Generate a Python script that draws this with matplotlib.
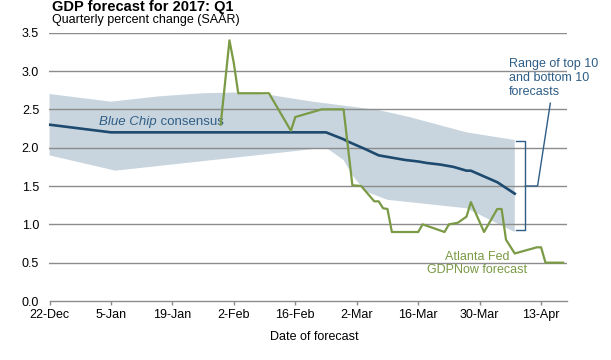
import matplotlib
matplotlib.use('Agg')
import matplotlib.pyplot as plt
import matplotlib.dates as mdates
import numpy as np

plt.rcParams['font.family'] = ['Liberation Sans', 'DejaVu Sans']

# Blue Chip consensus
bc_dates = ['2016-12-22', '2017-01-05', '2017-02-23', '2017-02-27', '2017-02-28',
            '2017-03-04', '2017-03-07', '2017-03-10', '2017-03-13', '2017-03-16',
            '2017-03-18', '2017-03-21', '2017-03-24', '2017-03-27', '2017-03-28',
            '2017-03-30', '2017-04-03', '2017-04-07']
bc_vals = [2.30, 2.20, 2.20, 2.11, 2.08, 1.98, 1.90, 1.87, 1.84, 1.82,
           1.80, 1.78, 1.75, 1.70, 1.70, 1.65, 1.55, 1.40]

# range of top 10 / bottom 10
hi_dates = ['2016-12-22', '2017-01-05', '2017-01-16', '2017-01-26', '2017-02-02',
            '2017-02-10', '2017-02-20', '2017-03-07', '2017-03-14', '2017-03-27',
            '2017-04-07']
hi_vals = [2.70, 2.60, 2.67, 2.71, 2.72, 2.69, 2.60, 2.49, 2.40, 2.20, 2.10]
lo_dates = ['2016-12-22', '2017-01-06', '2017-02-23', '2017-02-24', '2017-02-27',
            '2017-03-01', '2017-03-04', '2017-03-09', '2017-03-27', '2017-04-07']
lo_vals = [1.90, 1.70, 2.00, 1.96, 1.84, 1.64, 1.43, 1.32, 1.21, 0.90]

# Atlanta Fed GDPNow
gn_dates = ['2017-01-30', '2017-02-01', '2017-02-02', '2017-02-03', '2017-02-10',
            '2017-02-15', '2017-02-16', '2017-02-19', '2017-02-22', '2017-02-27',
            '2017-03-01', '2017-03-03', '2017-03-06', '2017-03-07', '2017-03-08',
            '2017-03-09', '2017-03-10', '2017-03-16', '2017-03-17', '2017-03-22',
            '2017-03-23', '2017-03-25', '2017-03-27', '2017-03-28', '2017-03-31',
            '2017-04-03', '2017-04-04', '2017-04-05', '2017-04-07', '2017-04-12',
            '2017-04-13', '2017-04-14', '2017-04-18']
gn_vals = [2.30, 3.40, 3.10, 2.71, 2.71, 2.22, 2.40, 2.45, 2.50, 2.50,
           1.51, 1.50, 1.30, 1.30, 1.21, 1.20, 0.90, 0.90, 1.00, 0.90,
           1.00, 1.02, 1.10, 1.29, 0.90, 1.20, 1.20, 0.80, 0.62, 0.70,
           0.70, 0.50, 0.50]

tick_dates = ['2016-12-22', '2017-01-05', '2017-01-19', '2017-02-02', '2017-02-16',
              '2017-03-02', '2017-03-16', '2017-03-30', '2017-04-13']
tick_labels = ['22-Dec', '5-Jan', '19-Jan', '2-Feb', '16-Feb', '2-Mar', '16-Mar',
               '30-Mar', '13-Apr']

def d(lst):
    return mdates.datestr2num(lst)

grey = '#8c8c8c'
navy = '#1d4a6e'
txtblue = '#2e5d86'
green = '#7a9a45'
band = '#c8d5de'

fig = plt.figure(figsize=(6.11, 3.60), dpi=100)
ax = fig.add_axes([49.5 / 611, 1 - 301 / 360, 517.5 / 611, 268.3 / 360])

x0 = d(['2016-12-22'])[0]
ax.set_xlim(x0, x0 + 117.9)
ax.set_ylim(0, 3.5)

ax.fill(np.concatenate([d(hi_dates), d(lo_dates)[::-1]]),
        np.concatenate([hi_vals, lo_vals[::-1]]), color=band, lw=0, zorder=1)

for v in np.arange(0.5, 3.51, 0.5):
    ax.axhline(v, color=grey, lw=1.0, zorder=2)

ax.plot(d(bc_dates), bc_vals, color=navy, lw=1.9, zorder=3)
ax.plot(d(gn_dates), gn_vals, color=green, lw=1.6, zorder=4)

# bracket + leader
bx = x0 + 108.4
hx = x0 + 106.3
ax.plot([hx, bx, bx, hx], [2.09, 2.09, 0.92, 0.92], color=txtblue, lw=1.0, clip_on=False)
ax.plot([bx, x0 + 111.2, x0 + 114.1], [1.50, 1.50, 2.58], color=txtblue, lw=1.0, clip_on=False)
ax.text(x0 + 104.6, 3.17, 'Range of top 10\nand bottom 10\nforecasts', color=txtblue,
        fontsize=9, ha='left', va='top', linespacing=1.25)

t1 = ax.text(x0 + 11.3, 2.34, 'Blue Chip', color=txtblue, fontsize=9.5,
             style='italic', ha='left', va='center')
ax.annotate(' consensus', xy=(1, 0), xycoords=t1, color=txtblue, fontsize=9.5,
            ha='left', va='bottom')

ax.text(x0 + 97.4, 0.485, 'Atlanta Fed\nGDPNow forecast', color=green, fontsize=9,
        ha='center', va='center', linespacing=1.12)

for s in ['top', 'left', 'right']:
    ax.spines[s].set_visible(False)
ax.spines['bottom'].set_color(grey)
ax.spines['bottom'].set_linewidth(1.0)

ax.set_xticks(d(tick_dates))
ax.set_xticklabels(tick_labels)
ax.set_yticks(np.arange(0, 3.51, 0.5))
ax.set_yticklabels(['%.1f' % v for v in np.arange(0, 3.51, 0.5)])
ax.tick_params(axis='y', length=0, pad=7.5, labelsize=9)
ax.tick_params(axis='x', length=3, width=1.0, color=grey, pad=3, labelsize=9)

fig.text(314 / 611, 1 - 337 / 360, 'Date of forecast', fontsize=9, ha='center', va='center')
fig.text(52 / 611, 1 - 10.5 / 360, 'GDP forecast for 2017: Q1', fontsize=10.5,
         weight='bold', va='baseline')
fig.text(52 / 611, 1 - 23 / 360, 'Quarterly percent change (SAAR)', fontsize=9,
         va='baseline')

fig.savefig('out.png', dpi=100)
